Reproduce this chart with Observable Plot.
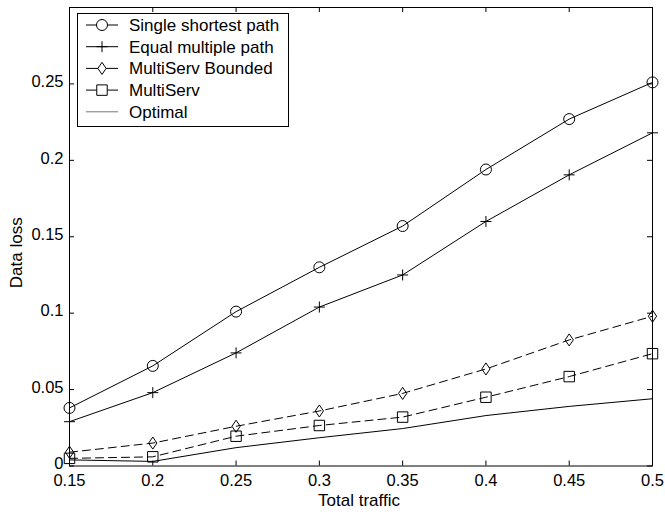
<!DOCTYPE html>
<html><head><meta charset="utf-8">
<script src="https://cdn.jsdelivr.net/npm/d3@7"></script>
<script src="https://cdn.jsdelivr.net/npm/@observablehq/plot@0.6"></script>
<style>
body{margin:0;background:#fff;}
#chart{position:relative;width:665px;height:514px;}
</style>
</head><body><div id="chart"></div>
<script>
// ---- data ----
const traffic = [0.15, 0.2, 0.25, 0.3, 0.35, 0.4, 0.45, 0.5];
const singleShortest   = [0.038, 0.0655, 0.101, 0.130, 0.157, 0.194, 0.227, 0.251];
const equalMultiple    = [0.029, 0.048, 0.074, 0.104, 0.125, 0.160, 0.1905, 0.218];
const multiServBounded = [0.009, 0.015, 0.026, 0.036, 0.0475, 0.0635, 0.0825, 0.098];
const multiServ        = [0.005, 0.006, 0.0195, 0.0265, 0.032, 0.045, 0.0585, 0.0735];
const optimal          = [0.004, 0.003, 0.012, 0.0185, 0.0245, 0.033, 0.039, 0.044];
const seriesNames = ["Single shortest path", "Equal multiple path", "MultiServ Bounded", "MultiServ", "Optimal"];
const xTicks = [0.15, 0.2, 0.25, 0.3, 0.35, 0.4, 0.45, 0.5];
const xTickLabels = ["0.15", "0.2", "0.25", "0.3", "0.35", "0.4", "0.45", "0.5"];
const yTicks = [0, 0.05, 0.1, 0.15, 0.2, 0.25];
const yTickLabels = ["0", "0.05", "0.1", "0.15", "0.2", "0.25"];
const xLabel = "Total traffic";
const yLabel = "Data loss";

// ---- marker shapes (MATLAB-like) ----
const symCircle = {draw(c, s){ const r = Math.sqrt(s/Math.PI); c.moveTo(r,0); c.arc(0,0,r,0,2*Math.PI); }};
const symPlus = {draw(c, s){ const r = Math.sqrt(s/Math.PI); c.moveTo(-r,0); c.lineTo(r,0); c.moveTo(0,-r); c.lineTo(0,r); }};
const symDiamond = {draw(c, s){ const r = Math.sqrt(s/Math.PI); c.moveTo(0,-r*1.1); c.lineTo(r*0.75,0); c.lineTo(0,r*1.1); c.lineTo(-r*0.75,0); c.closePath(); }};
const symSquare = {draw(c, s){ const r = Math.sqrt(s/Math.PI)*0.95; c.rect(-r,-r,2*r,2*r); }};

const seriesValues = [singleShortest, equalMultiple, multiServBounded, multiServ, optimal];
const seriesStyle = [
  {dash: null, symbol: symCircle},
  {dash: null, symbol: symPlus},
  {dash: "8,5", symbol: symDiamond},
  {dash: "8,5", symbol: symSquare},
  {dash: null, symbol: null}
];

const W = 665, H = 514;
const mL = 69, mR = 13, mT = 7, mB = 48.5;
const innerW = W - mL - mR, innerH = H - mT - mB;
const FONT = "'Liberation Sans', Arial, Helvetica, sans-serif";

const marks = [];
seriesNames.forEach((name, i) => {
  const rows = traffic.map((t, j) => ({traffic: t, loss: seriesValues[i][j], series: name}));
  const st = seriesStyle[i];
  marks.push(Plot.line(rows, {x: "traffic", y: "loss", stroke: "#000", strokeWidth: 1,
    strokeDasharray: st.dash || undefined}));
  if (st.symbol) {
    marks.push(Plot.dot(rows, {x: "traffic", y: "loss", symbol: st.symbol, r: 5.5,
      stroke: "#000", fill: "none", strokeWidth: 1}));
  }
});

const chart = Plot.plot({
  width: W, height: H,
  marginLeft: mL, marginRight: mR, marginTop: mT, marginBottom: mB,
  style: {fontFamily: FONT, fontSize: "16.5px", color: "#000", background: "#fff"},
  x: {domain: [0.15, 0.5]},
  y: {domain: [0, 0.3]},
  marks: [
    Plot.frame({stroke: "#000", strokeWidth: 1}),
    // inward ticks on all four sides
    Plot.tickX(xTicks, {x: d => d, insetTop: innerH - 5, stroke: "#000"}),
    Plot.tickX(xTicks, {x: d => d, insetBottom: innerH - 5, stroke: "#000"}),
    Plot.tickY(yTicks, {y: d => d, insetRight: innerW - 5, stroke: "#000"}),
    Plot.tickY(yTicks, {y: d => d, insetLeft: innerW - 5, stroke: "#000"}),
    Plot.axisX({ticks: xTicks, tickSize: 0, tickPadding: 8, label: null,
      tickFormat: d => xTickLabels[xTicks.indexOf(d)]}),
    Plot.axisY({ticks: yTicks, tickSize: 0, tickPadding: 6, label: null, dy: -2,
      tickFormat: d => yTickLabels[yTicks.indexOf(d)]}),
    Plot.text([xLabel], {text: d => d, frameAnchor: "bottom", lineAnchor: "middle", textAnchor: "middle",
      dy: 35, dx: -2, fontSize: 17, fill: "#000"}),
    Plot.text([yLabel], {text: d => d, frameAnchor: "left", rotate: -90, lineAnchor: "middle", textAnchor: "middle",
      dx: -52.5, dy: 16, fontSize: 17, fill: "#000"}),
    ...marks
  ]
});
document.getElementById("chart").appendChild(chart);

// ---- legend (MATLAB-style box, top-left inside the axes) ----
const svg = d3.select(chart);
const lg = svg.append("g").attr("font-family", FONT).attr("font-size", 17).attr("text-anchor", "start");
lg.append("rect").attr("x", 77.5).attr("y", 13.5).attr("width", 211).attr("height", 113)
  .attr("fill", "#fff").attr("stroke", "#000").attr("stroke-width", 1);
seriesNames.forEach((name, i) => {
  const y = 25 + i * 21.7;
  const st = seriesStyle[i];
  lg.append("line").attr("x1", 86).attr("x2", 118).attr("y1", y).attr("y2", y)
    .attr("stroke", st.symbol ? "#000" : "#777").attr("stroke-width", 1)
    .attr("stroke-dasharray", st.dash ? "12,8" : null);
  if (st.symbol) {
    lg.append("path").attr("transform", `translate(102,${y})`)
      .attr("d", d3.symbol(st.symbol, Math.PI * 5.5 * 5.5)())
      .attr("fill", "#fff").attr("stroke", "#000").attr("stroke-width", 1);
  }
  lg.append("text").attr("x", 129).attr("y", y).attr("dy", "0.35em").attr("text-anchor", "start")
    .attr("fill", "#000").text(name);
});
</script>
</body></html>
